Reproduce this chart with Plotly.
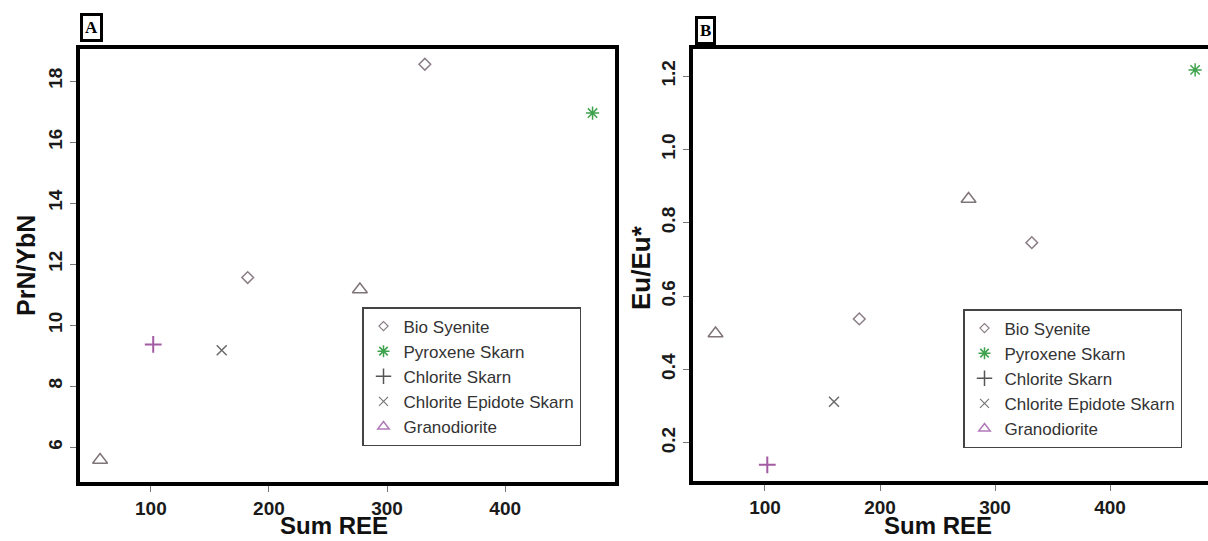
import plotly.graph_objects as go

# ---- data ----
series_names = ["Bio Syenite", "Pyroxene Skarn", "Chlorite Skarn",
                "Chlorite Epidote Skarn", "Granodiorite"]

bio_sum = [182, 332]
pyx_sum = [474]
chl_sum = [102]
chlep_sum = [160]
gran_sum = [57, 277]

bio_pryb = [11.56, 18.55]
pyx_pryb = [16.95]
chl_pryb = [9.37]
chlep_pryb = [9.18]
gran_pryb = [5.58, 11.17]

bio_eu = [0.538, 0.746]
pyx_eu = [1.217]
chl_eu = [0.14]
chlep_eu = [0.312]
gran_eu = [0.498, 0.865]

x_ticks = [100, 200, 300, 400]
ya_ticks = [6, 8, 10, 12, 14, 16, 18]
yb_ticks = [0.2, 0.4, 0.6, 0.8, 1.0, 1.2]
yb_ticklabels = ["0.2", "0.4", "0.6", "0.8", "1.0", "1.2"]

W, H = 1208, 541
FONT = "Liberation Sans, Arial, sans-serif"

# marker styles for data points
pt_style = {
    "Bio Syenite": dict(symbol="diamond-open", size=9, color="#8a7f88", line=dict(width=1.5, color="#8a7f88")),
    "Pyroxene Skarn": dict(symbol="asterisk-open", size=11, color="#3fa34d", line=dict(width=1.5, color="#3fa34d")),
    "Chlorite Skarn": dict(symbol="cross-thin-open", size=12, color="#a35ca3", line=dict(width=2, color="#a35ca3")),
    "Chlorite Epidote Skarn": dict(symbol="x-thin-open", size=10, color="#6b6b6b", line=dict(width=1.5, color="#6b6b6b")),
    "Granodiorite": dict(symbol="triangle-up-open", size=13, color="#7f7478", line=dict(width=1.5, color="#7f7478")),
}
# marker styles for legend symbols
lg_style = {
    "Bio Syenite": dict(symbol="diamond-open", size=7, color="#8a7f88", line=dict(width=1.2, color="#8a7f88")),
    "Pyroxene Skarn": dict(symbol="asterisk-open", size=10, color="#3fa34d", line=dict(width=1.5, color="#3fa34d")),
    "Chlorite Skarn": dict(symbol="cross-thin-open", size=11, color="#555555", line=dict(width=1.5, color="#555555")),
    "Chlorite Epidote Skarn": dict(symbol="x-thin-open", size=9, color="#777777", line=dict(width=1.2, color="#777777")),
    "Granodiorite": dict(symbol="triangle-up-open", size=10, color="#b07ab8", line=dict(width=1.5, color="#b07ab8")),
}

panel_a = {
    "Bio Syenite": (bio_sum, bio_pryb),
    "Pyroxene Skarn": (pyx_sum, pyx_pryb),
    "Chlorite Skarn": (chl_sum, chl_pryb),
    "Chlorite Epidote Skarn": (chlep_sum, chlep_pryb),
    "Granodiorite": (gran_sum, gran_pryb),
}
panel_b = {
    "Bio Syenite": (bio_sum, bio_eu),
    "Pyroxene Skarn": (pyx_sum, pyx_eu),
    "Chlorite Skarn": (chl_sum, chl_eu),
    "Chlorite Epidote Skarn": (chlep_sum, chlep_eu),
    "Granodiorite": (gran_sum, gran_eu),
}

fig = go.Figure()

for name in series_names:
    xs, ys = panel_a[name]
    fig.add_trace(go.Scatter(x=xs, y=ys, mode="markers", marker=pt_style[name],
                             showlegend=False, xaxis="x", yaxis="y", name=name))
    xs, ys = panel_b[name]
    fig.add_trace(go.Scatter(x=xs, y=ys, mode="markers", marker=pt_style[name],
                             showlegend=False, xaxis="x2", yaxis="y2", name=name))

for name in series_names:
    fig.add_trace(go.Scatter(x=[None], y=[None], mode="markers", marker=lg_style[name],
                             name=name, legend="legend", xaxis="x", yaxis="y"))
    fig.add_trace(go.Scatter(x=[None], y=[None], mode="markers", marker=lg_style[name],
                             name=name, legend="legend2", xaxis="x2", yaxis="y2"))

tickfont = dict(family=FONT, size=19, color="#1a1a1a", weight="bold")

common_x = dict(showgrid=False, zeroline=False, showline=True, linewidth=4, linecolor="black",
                mirror=True, ticks="outside", ticklen=6, tickwidth=1, tickcolor="#777",
                tickvals=x_ticks, tickfont=tickfont, automargin=False)
common_y = dict(showgrid=False, zeroline=False, showline=True, linewidth=4, linecolor="black",
                ticks="outside", ticklen=6, tickwidth=1, tickcolor="#777",
                tickangle=-90, tickfont=tickfont, automargin=False)

legend_common = dict(font=dict(family=FONT, size=17, color="#333333"),
                     bgcolor="white", bordercolor="#444", borderwidth=1.5,
                     xanchor="left", yanchor="top", tracegroupgap=0, itemwidth=30)

fig.update_layout(
    width=W, height=H,
    margin=dict(l=0, r=0, t=0, b=0),
    paper_bgcolor="white", plot_bgcolor="white",
    xaxis=dict(domain=[80 / W, 615 / W], range=[40, 493], anchor="y", **common_x),
    yaxis=dict(domain=[1 - 482 / H, 1 - 49 / H], range=[4.86, 19.05], anchor="x",
               tickvals=ya_ticks, mirror=True, **common_y),
    xaxis2=dict(domain=[693 / W, 1.0], range=[37.4, 485.2], anchor="y2", **common_x),
    yaxis2=dict(domain=[1 - 481 / H, 1 - 49 / H], range=[0.096, 1.274], anchor="x2",
                tickvals=yb_ticks, ticktext=yb_ticklabels, mirror=False, **common_y),
    legend=dict(x=362 / W, y=1 - 307 / H, **legend_common),
    legend2=dict(x=963 / W, y=1 - 309 / H, **legend_common),
    showlegend=True,
)

title_font = dict(family=FONT, size=24, color="#111", weight="bold")
for cx in (334, 938):
    fig.add_annotation(text="Sum REE", xref="paper", yref="paper", x=cx / W, y=0,
                       showarrow=False, xanchor="center", yanchor="bottom", font=title_font)

annos = [
    dict(text="PrN/YbN", x=26 / W, y=1 - 266 / H, textangle=-90, font=dict(family=FONT, size=25, color="#111", weight="bold")),
    dict(text="Eu/Eu*", x=641 / W, y=1 - 268 / H, textangle=-90, font=dict(family=FONT, size=26, color="#111", weight="bold")),
]
for a in annos:
    fig.add_annotation(xref="paper", yref="paper", showarrow=False,
                       xanchor="center", yanchor="middle", **a)

# panel letters
for letter, cx, cy in [("A", 91, 28), ("B", 705, 30)]:
    fig.add_annotation(text=letter, xref="paper", yref="paper", x=cx / W, y=1 - cy / H,
                       showarrow=False, xanchor="center", yanchor="middle",
                       font=dict(family="Liberation Serif, Times New Roman, serif", size=17,
                                 color="black", weight="bold"),
                       bordercolor="black", borderwidth=3, borderpad=2, bgcolor="white")

fig.write_html("out.html", config={"displayModeBar": False},
               post_script="document.body.style.margin='0px';document.body.style.overflow='hidden';")
